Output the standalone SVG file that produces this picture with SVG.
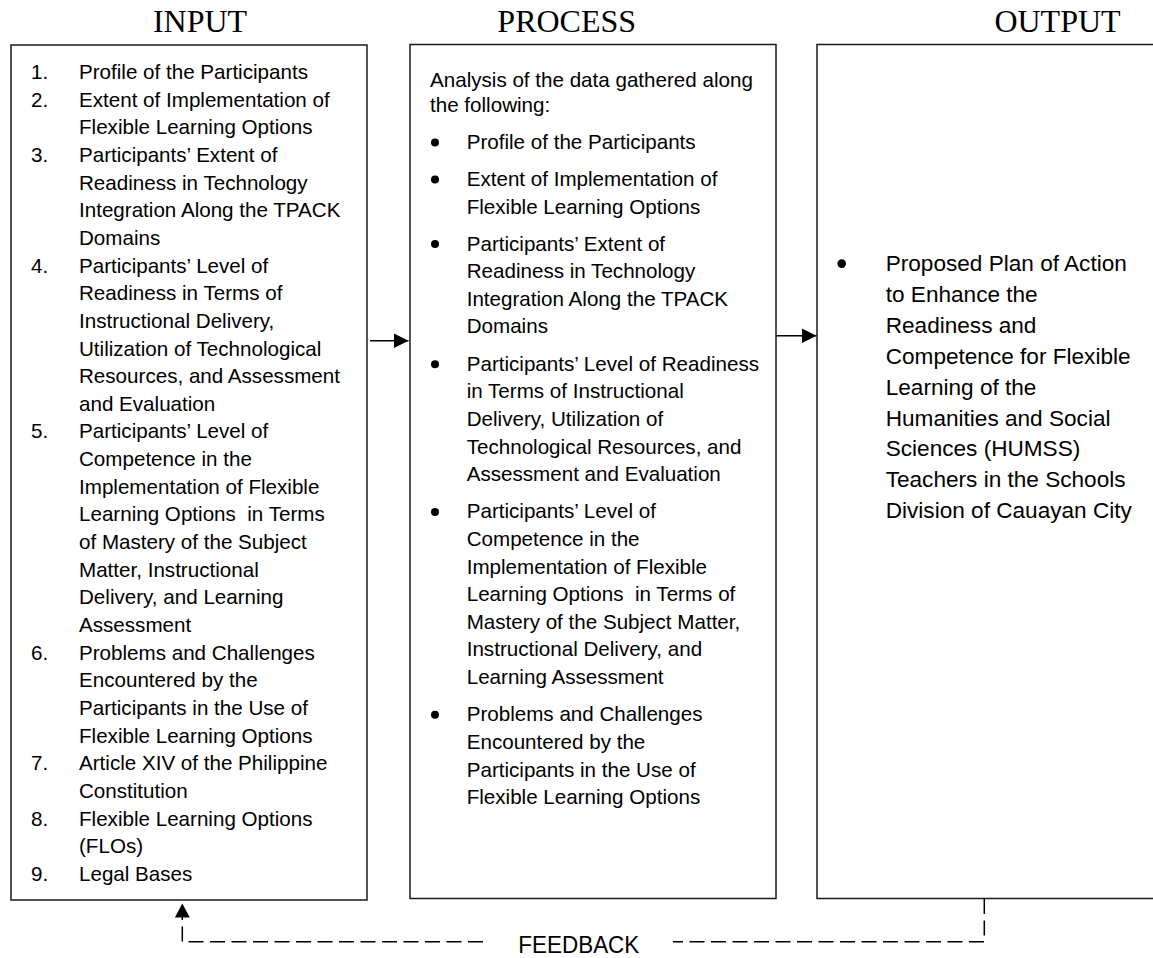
<svg xmlns="http://www.w3.org/2000/svg" width="1153" height="958" viewBox="0 0 1153 958">
<defs>
<style>
.title{font-family:"Liberation Serif","Times New Roman",serif;font-size:32px;fill:#000;text-anchor:middle}
.t{font-family:"Liberation Sans",Arial,sans-serif;font-size:20.6px;fill:#000}
.o{font-family:"Liberation Sans",Arial,sans-serif;font-size:22.6px;fill:#000}
.box{fill:#fff;stroke:#1a1a1a;stroke-width:1.5}
.dot{fill:#000}
.conn{fill:none;stroke:#000;stroke-width:1.5}
.dash{stroke-dasharray:15 6.5}
</style>
<marker id="ah" markerUnits="userSpaceOnUse" markerWidth="16" markerHeight="16" refX="15" refY="7.5" orient="auto">
<path d="M0,0 L15,7.5 L0,15 Z" fill="#000"/>
</marker>
<marker id="ahUp" markerUnits="userSpaceOnUse" markerWidth="16" markerHeight="16" refX="14" refY="7.5" orient="auto">
<path d="M0,0 L14,7.5 L0,15 Z" fill="#000"/>
</marker>
</defs>
<rect width="1153" height="958" fill="#fff"/>

<g id="titles">
<text class="title" x="200" y="31.7">INPUT</text>
<text class="title" x="566.7" y="31.7">PROCESS</text>
<text class="title" x="1057.5" y="31.7">OUTPUT</text>
</g>

<g id="input">
<rect class="box" x="11" y="45" width="356" height="855"/>
<g class="t">
<text x="31" y="79">1.</text><text x="79" y="79">Profile of the Participants</text>
<text x="31" y="106.65">2.</text><text x="79" y="106.65">Extent of Implementation of</text>
<text x="79" y="134.3">Flexible Learning Options</text>
<text x="31" y="161.95">3.</text><text x="79" y="161.95">Participants’ Extent of</text>
<text x="79" y="189.6">Readiness in Technology</text>
<text x="79" y="217.25">Integration Along the TPACK</text>
<text x="79" y="244.9">Domains</text>
<text x="31" y="272.55">4.</text><text x="79" y="272.55">Participants’ Level of</text>
<text x="79" y="300.2">Readiness in Terms of</text>
<text x="79" y="327.85">Instructional Delivery,</text>
<text x="79" y="355.5">Utilization of Technological</text>
<text x="79" y="383.15">Resources, and Assessment</text>
<text x="79" y="410.8">and Evaluation</text>
<text x="31" y="438.45">5.</text><text x="79" y="438.45">Participants’ Level of</text>
<text x="79" y="466.1">Competence in the</text>
<text x="79" y="493.75">Implementation of Flexible</text>
<text x="79" y="521.4" xml:space="preserve">Learning Options  in Terms</text>
<text x="79" y="549.05">of Mastery of the Subject</text>
<text x="79" y="576.7">Matter, Instructional</text>
<text x="79" y="604.35">Delivery, and Learning</text>
<text x="79" y="632">Assessment</text>
<text x="31" y="659.65">6.</text><text x="79" y="659.65">Problems and Challenges</text>
<text x="79" y="687.3">Encountered by the</text>
<text x="79" y="714.95">Participants in the Use of</text>
<text x="79" y="742.6">Flexible Learning Options</text>
<text x="31" y="770.25">7.</text><text x="79" y="770.25">Article XIV of the Philippine</text>
<text x="79" y="797.9">Constitution</text>
<text x="31" y="825.55">8.</text><text x="79" y="825.55">Flexible Learning Options</text>
<text x="79" y="853.2">(FLOs)</text>
<text x="31" y="880.85">9.</text><text x="79" y="880.85">Legal Bases</text>
</g>
</g>

<g id="process">
<rect class="box" x="410" y="44.5" width="366" height="854"/>
<g class="t">
<text x="430" y="87.3">Analysis of the data gathered along</text>
<text x="430" y="112.3">the following:</text>
<text x="466.7" y="149">Profile of the Participants</text>
<text x="466.7" y="186">Extent of Implementation of</text>
<text x="466.7" y="213.6">Flexible Learning Options</text>
<text x="466.7" y="250.6">Participants’ Extent of</text>
<text x="466.7" y="278.2">Readiness in Technology</text>
<text x="466.7" y="305.8">Integration Along the TPACK</text>
<text x="466.7" y="333.4">Domains</text>
<text x="466.7" y="370.7">Participants’ Level of Readiness</text>
<text x="466.7" y="398.3">in Terms of Instructional</text>
<text x="466.7" y="425.9">Delivery, Utilization of</text>
<text x="466.7" y="453.5">Technological Resources, and</text>
<text x="466.7" y="481.1">Assessment and Evaluation</text>
<text x="466.7" y="518.4">Participants’ Level of</text>
<text x="466.7" y="546">Competence in the</text>
<text x="466.7" y="573.6">Implementation of Flexible</text>
<text x="466.7" y="601.2" xml:space="preserve">Learning Options  in Terms of</text>
<text x="466.7" y="628.8">Mastery of the Subject Matter,</text>
<text x="466.7" y="656.4">Instructional Delivery, and</text>
<text x="466.7" y="684">Learning Assessment</text>
<text x="466.7" y="721.3">Problems and Challenges</text>
<text x="466.7" y="748.9">Encountered by the</text>
<text x="466.7" y="776.5">Participants in the Use of</text>
<text x="466.7" y="804.1">Flexible Learning Options</text>
</g>
<g class="dot">
<circle cx="435" cy="142.5" r="4"/>
<circle cx="435" cy="179.5" r="4"/>
<circle cx="435" cy="244.1" r="4"/>
<circle cx="435" cy="364.2" r="4"/>
<circle cx="435" cy="511.9" r="4"/>
<circle cx="435" cy="714.8" r="4"/>
</g>
</g>

<g id="output">
<rect class="box" x="817" y="44.5" width="400" height="854"/>
<circle class="dot" cx="841.7" cy="263.6" r="4.3"/>
<g class="o">
<text x="885.7" y="270.6">Proposed Plan of Action</text>
<text x="885.7" y="301.6">to Enhance the</text>
<text x="885.7" y="332.5">Readiness and</text>
<text x="885.7" y="363.5">Competence for Flexible</text>
<text x="885.7" y="394.5">Learning of the</text>
<text x="885.7" y="425.5">Humanities and Social</text>
<text x="885.7" y="456.4">Sciences (HUMSS)</text>
<text x="885.7" y="487.4">Teachers in the Schools</text>
<text x="885.7" y="518.4">Division of Cauayan City</text>
</g>
</g>

<g id="connectors">
<path class="conn" d="M370,340.7 H408.5" marker-end="url(#ah)"/>
<path class="conn" d="M776,335.7 H816.5" marker-end="url(#ah)"/>
<path class="conn dash" d="M984.3,899 V941.7 H673"/>
<path class="conn dash" d="M483,941.7 H182.3 V903.5" marker-end="url(#ahUp)"/>
</g>

<g id="feedback-label">
<text x="518.3" y="953" font-family="Liberation Sans, Arial, sans-serif" font-size="23" textLength="121" lengthAdjust="spacingAndGlyphs" fill="#000">FEEDBACK</text>
</g>
</svg>
